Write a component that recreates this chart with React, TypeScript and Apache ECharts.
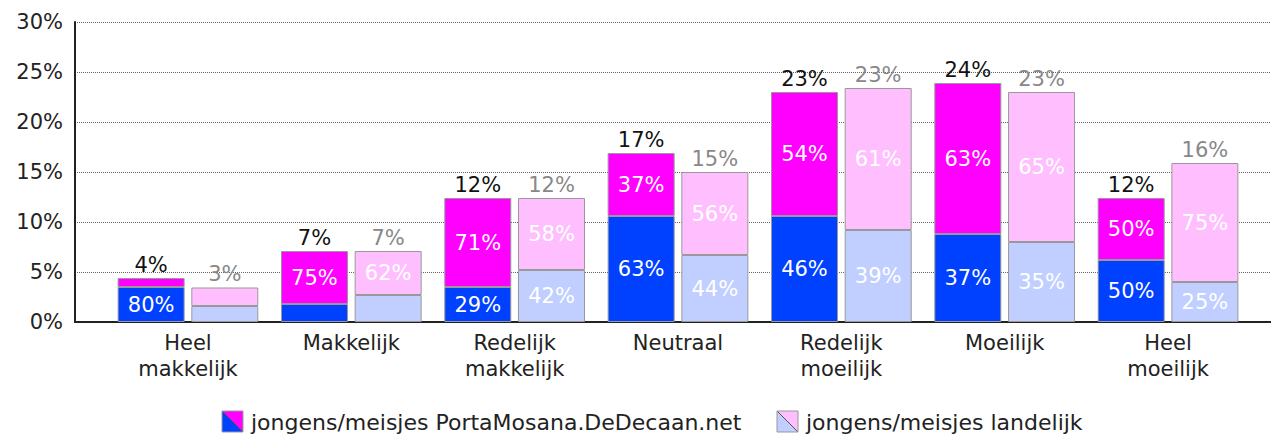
import React, { useEffect, useRef } from "react";
import * as echarts from "echarts";

const categories = ["Heel\nmakkelijk", "Makkelijk", "Redelijk\nmakkelijk", "Neutraal", "Redelijk\nmoeilijk", "Moeilijk", "Heel\nmoeilijk"];
const yTicks = [0, 5, 10, 15, 20, 25, 30];

const schoolBottom = [3.5, 1.8, 3.5, 10.6, 10.6, 8.8, 6.2];
const schoolTop = [0.9, 5.3, 8.9, 6.3, 12.4, 15.1, 6.2];
const nationalBottom = [1.6, 2.7, 5.2, 6.7, 9.2, 8.0, 4.0];
const nationalTop = [1.85, 4.4, 7.2, 8.3, 14.2, 15.0, 11.9];

const schoolBottomLabels = ["80%", "", "29%", "63%", "46%", "37%", "50%"];
const schoolTopLabels = ["", "75%", "71%", "37%", "54%", "63%", "50%"];
const nationalBottomLabels = ["", "", "42%", "44%", "39%", "35%", "25%"];
const nationalTopLabels = ["", "62%", "58%", "56%", "61%", "65%", "75%"];
const schoolTotals = ["4%", "7%", "12%", "17%", "23%", "24%", "12%"];
const nationalTotals = ["3%", "7%", "12%", "15%", "23%", "23%", "16%"];

const legendNames = ["jongens/meisjes PortaMosana.DeDecaan.net", "jongens/meisjes landelijk"];

const BLUE = "#0040ff";
const MAGENTA = "#ff00ff";
const LBLUE = "#c0cfff";
const PINK = "#ffbfff";
const FONT = "DejaVu Sans, Verdana, sans-serif";
const FS = 21;

export default function App() {
  const ref = useRef<HTMLDivElement>(null);
  useEffect(() => {
    if (!ref.current) return;
    const chart = echarts.init(ref.current, null, { renderer: "svg" });
    const inner = (labels: string[]) => ({
      show: true,
      position: "inside",
      color: "#fff",
      fontSize: FS,
      fontFamily: FONT,
      formatter: (p: any) => labels[p.dataIndex],
    });
    const total = (labels: string[], color: string) => ({
      show: true,
      position: "top",
      distance: 3,
      color,
      fontSize: FS,
      fontFamily: FONT,
      formatter: (p: any) => labels[p.dataIndex],
    });
    const item = (color: string) => ({ color, borderColor: "#999", borderWidth: 1 });
    const zeros = categories.map(() => 0);

    const legendIcon = (x: number, c1: string, c2: string, text: string) => ({
      type: "group",
      x,
      y: 411,
      children: [
        { type: "polygon", shape: { points: [[0, 0], [0, 21], [21, 21]] }, style: { fill: c1 } },
        { type: "polygon", shape: { points: [[0, 0], [21, 0], [21, 21]] }, style: { fill: c2 } },
        { type: "line", shape: { x1: 0, y1: 0, x2: 21, y2: 21 }, style: { stroke: "#555", lineWidth: 1 } },
        { type: "rect", shape: { x: 0, y: 0, width: 21, height: 21 }, style: { fill: "none", stroke: "#999", lineWidth: 1 } },
        { type: "text", x: 29, y: 11, style: { text, fontSize: 22, fontFamily: FONT, fill: "#222", verticalAlign: "middle" } },
      ],
    });

    chart.setOption({
      animation: false,
      backgroundColor: "#fff",
      grid: [
        { left: 75, right: 0, top: 22, bottom: 112 },
        { left: 106.3, width: 1143.4, top: 22, bottom: 112 },
      ],
      xAxis: [
        {
          gridIndex: 0, type: "value", min: 0, max: 1,
          axisLine: { show: true, lineStyle: { color: "#222", width: 2 } },
          axisTick: { show: false }, axisLabel: { show: false }, splitLine: { show: false },
        },
        {
          gridIndex: 1, type: "category", data: categories,
          axisLine: { show: false }, axisTick: { show: false },
          axisLabel: { color: "#222", fontSize: FS, fontFamily: FONT, margin: 8, lineHeight: 26 },
        },
      ],
      yAxis: [
        {
          gridIndex: 0, type: "value", min: 0, max: 30, interval: 5,
          axisLine: { show: true, lineStyle: { color: "#222", width: 2 } },
          axisTick: { show: false },
          axisLabel: { color: "#222", fontSize: FS, fontFamily: FONT, margin: 12, formatter: "{value}%",
            customValues: yTicks },
          splitLine: { show: true, lineStyle: { color: "#666", type: "dotted", width: 1 } },
        },
        { gridIndex: 1, type: "value", min: 0, max: 30, interval: 5, show: false, splitLine: { show: false } },
      ],
      series: [
        { type: "bar", xAxisIndex: 1, yAxisIndex: 1, stack: "s", barWidth: 67, barGap: "10%", data: schoolBottom, itemStyle: item(BLUE), label: inner(schoolBottomLabels) },
        { type: "bar", xAxisIndex: 1, yAxisIndex: 1, stack: "s", data: schoolTop, itemStyle: item(MAGENTA), label: inner(schoolTopLabels) },
        { type: "bar", xAxisIndex: 1, yAxisIndex: 1, stack: "s", data: zeros, itemStyle: { color: "transparent", borderWidth: 0 }, label: total(schoolTotals, "#111") },
        { type: "bar", xAxisIndex: 1, yAxisIndex: 1, stack: "n", barWidth: 67, barGap: "10%", data: nationalBottom, itemStyle: item(LBLUE), label: inner(nationalBottomLabels) },
        { type: "bar", xAxisIndex: 1, yAxisIndex: 1, stack: "n", data: nationalTop, itemStyle: item(PINK), label: inner(nationalTopLabels) },
        { type: "bar", xAxisIndex: 1, yAxisIndex: 1, stack: "n", data: zeros, itemStyle: { color: "transparent", borderWidth: 0 }, label: total(nationalTotals, "#888") },
      ],
      graphic: [
        legendIcon(222, BLUE, MAGENTA, legendNames[0]),
        legendIcon(777, LBLUE, PINK, legendNames[1]),
      ],
    });
    return () => chart.dispose();
  }, []);
  return <div ref={ref} style={{ width: 1271, height: 434, position: "absolute", left: 0, top: 0 }} />;
}
